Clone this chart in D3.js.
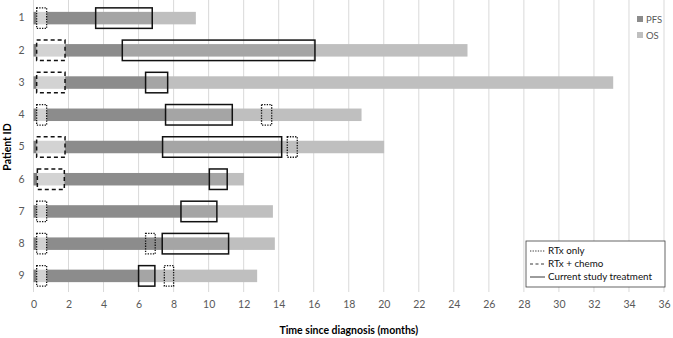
<!DOCTYPE html>
<html>
<head>
<meta charset="utf-8">
<script src="https://cdn.jsdelivr.net/npm/d3@7"></script>
<style>
  body { margin: 0; background: #fff; }
  svg { display: block; font-family: Lato, "Open Sans", sans-serif; }
</style>
</head>
<body>
<svg id="chart" width="673" height="338"></svg>
<script>
// ---- data (months since diagnosis) ----
const patients   = ["1","2","3","4","5","6","7","8","9"];
const rtxStart   = [0.18, 0.18, 0.18, 0.18, 0.18, 0.22, 0.18, 0.18, 0.18];
const rtxEnd     = [0.75, 1.80, 1.80, 0.75, 1.80, 1.76, 0.75, 0.75, 0.75];
const rtxType    = ["dotted","dashed","dashed","dotted","dashed","dashed","dotted","dotted","dotted"];
const studyStart = [3.55, 5.07, 6.40, 7.54, 7.37, 10.04, 8.42, 7.35, 6.00];
const pfsEnd     = [6.78, 16.07, 7.66, 11.35, 14.17, 11.06, 10.47, 11.14, 6.93];
const osEnd      = [9.27, 24.78, 33.10, 18.73, 20.02, 12.02, 13.67, 13.78, 12.77];
// later radiotherapy-only courses
const laterRtxPatient = ["4", "5", "8", "9"];
const laterRtxStart   = [13.02, 14.49, 6.40, 7.47];
const laterRtxEnd     = [13.60, 15.06, 6.95, 8.00];
const xTicks = d3.range(0, 37, 2);
const seriesNames = ["PFS", "OS"];
const lineLegend = ["RTx only", "RTx + chemo", "Current study treatment"];

// ---- layout ----
const svg = d3.select("#chart");
const margin = {left: 33.5, right: 9, top: 2, bottom: 46};
const W = 673, H = 338;
const x = d3.scaleLinear().domain([0, 36]).range([margin.left, W - margin.right]);
const y = d3.scaleBand().domain(patients).range([margin.top, H - margin.bottom]).paddingInner(0).paddingOuter(0);
const barH = 12.5, boxH = 20.5;

const colors = {start: "#7f7f7f", rtx: "#d3d3d3", pfs: "#8c8c8c", study: "#a5a5a5", os: "#bfbfbf"};
const dashes = {dotted: "1.3,1.3", dashed: "4,3", solid: null};

// gridlines
svg.append("g").selectAll("line").data(xTicks).join("line")
  .attr("x1", d => x(d)).attr("x2", d => x(d))
  .attr("y1", 0).attr("y2", H - margin.bottom)
  .attr("stroke", "#d9d9d9").attr("stroke-width", 1);

// x axis labels
const xAxis = d3.axisBottom(x).tickValues(xTicks).tickSize(0).tickPadding(9);
const gx = svg.append("g").attr("transform", `translate(0,${H - margin.bottom})`).call(xAxis);
gx.select(".domain").remove();
gx.selectAll("text").attr("fill", "#595959").attr("font-size", 10.5).style("font-family", "Lato, sans-serif");

// y axis labels
const yAxis = d3.axisLeft(y).tickSize(0).tickPadding(9);
const gy = svg.append("g").attr("transform", `translate(${margin.left},0)`).call(yAxis);
gy.select(".domain").remove();
gy.selectAll("text").attr("fill", "#595959").attr("font-size", 10.5).style("font-family", "Lato, sans-serif");

// bar segments
const segs = [];
patients.forEach((p, i) => {
  segs.push({p, a: 0, b: rtxStart[i], c: colors.start});
  segs.push({p, a: rtxStart[i], b: rtxEnd[i], c: colors.rtx});
  segs.push({p, a: rtxEnd[i], b: studyStart[i], c: colors.pfs});
  segs.push({p, a: studyStart[i], b: pfsEnd[i], c: colors.study});
  segs.push({p, a: pfsEnd[i], b: osEnd[i], c: colors.os});
});
svg.append("g").selectAll("rect").data(segs).join("rect")
  .attr("x", d => x(d.a)).attr("width", d => x(d.b) - x(d.a))
  .attr("y", d => y(d.p) + y.bandwidth() / 2 - barH / 2).attr("height", barH)
  .attr("fill", d => d.c);

// boxes
const boxes = [];
patients.forEach((p, i) => {
  boxes.push({p, a: rtxStart[i], b: rtxEnd[i], t: rtxType[i]});
  boxes.push({p, a: studyStart[i], b: pfsEnd[i], t: "solid"});
});
laterRtxPatient.forEach((p, i) => boxes.push({p, a: laterRtxStart[i], b: laterRtxEnd[i], t: "dotted"}));
svg.append("g").selectAll("rect").data(boxes).join("rect")
  .attr("x", d => x(d.a)).attr("width", d => x(d.b) - x(d.a))
  .attr("y", d => y(d.p) + y.bandwidth() / 2 - boxH / 2).attr("height", boxH)
  .attr("fill", "none").attr("stroke", "#111")
  .attr("stroke-width", d => d.t === "solid" ? 1.5 : (d.t === "dashed" ? 1.5 : 1.3))
  .attr("stroke-dasharray", d => dashes[d.t]);

// axis titles
svg.append("text").attr("x", (x(0) + x(36)) / 2).attr("y", 334)
  .attr("text-anchor", "middle").attr("font-size", 10.5).attr("font-weight", "bold").attr("fill", "#000")
  .text("Time since diagnosis (months)");
svg.append("text").attr("transform", `translate(11,${(margin.top + H - margin.bottom) / 2}) rotate(-90)`)
  .attr("text-anchor", "middle").attr("font-size", 10.5).attr("font-weight", "bold").attr("fill", "#000")
  .text("Patient ID");

// series legend
const lg = svg.append("g");
seriesNames.forEach((s, i) => {
  const yy = 19 + i * 16;
  lg.append("rect").attr("x", 637).attr("y", yy - 3).attr("width", 6).attr("height", 6)
    .attr("fill", i === 0 ? colors.pfs : colors.os);
  lg.append("text").attr("x", 646).attr("y", yy + 3.5).attr("font-size", 9.5).attr("fill", "#595959").text(s);
});

// line style legend
const ll = svg.append("g");
ll.append("rect").attr("x", 526).attr("y", 241).attr("width", 139).attr("height", 46)
  .attr("fill", "#fff").attr("stroke", "#404040").attr("stroke-width", 0.8);
const lineDash = ["1.3,1.3", "3,2.5", null];
lineLegend.forEach((s, i) => {
  const yy = 251 + i * 13;
  ll.append("line").attr("x1", 530).attr("x2", 545).attr("y1", yy).attr("y2", yy)
    .attr("stroke", "#222").attr("stroke-width", 0.9).attr("stroke-dasharray", lineDash[i]);
  ll.append("text").attr("x", 548).attr("y", yy + 3.3).attr("font-size", 9.8).attr("fill", "#111").text(s);
});
</script>
</body>
</html>
